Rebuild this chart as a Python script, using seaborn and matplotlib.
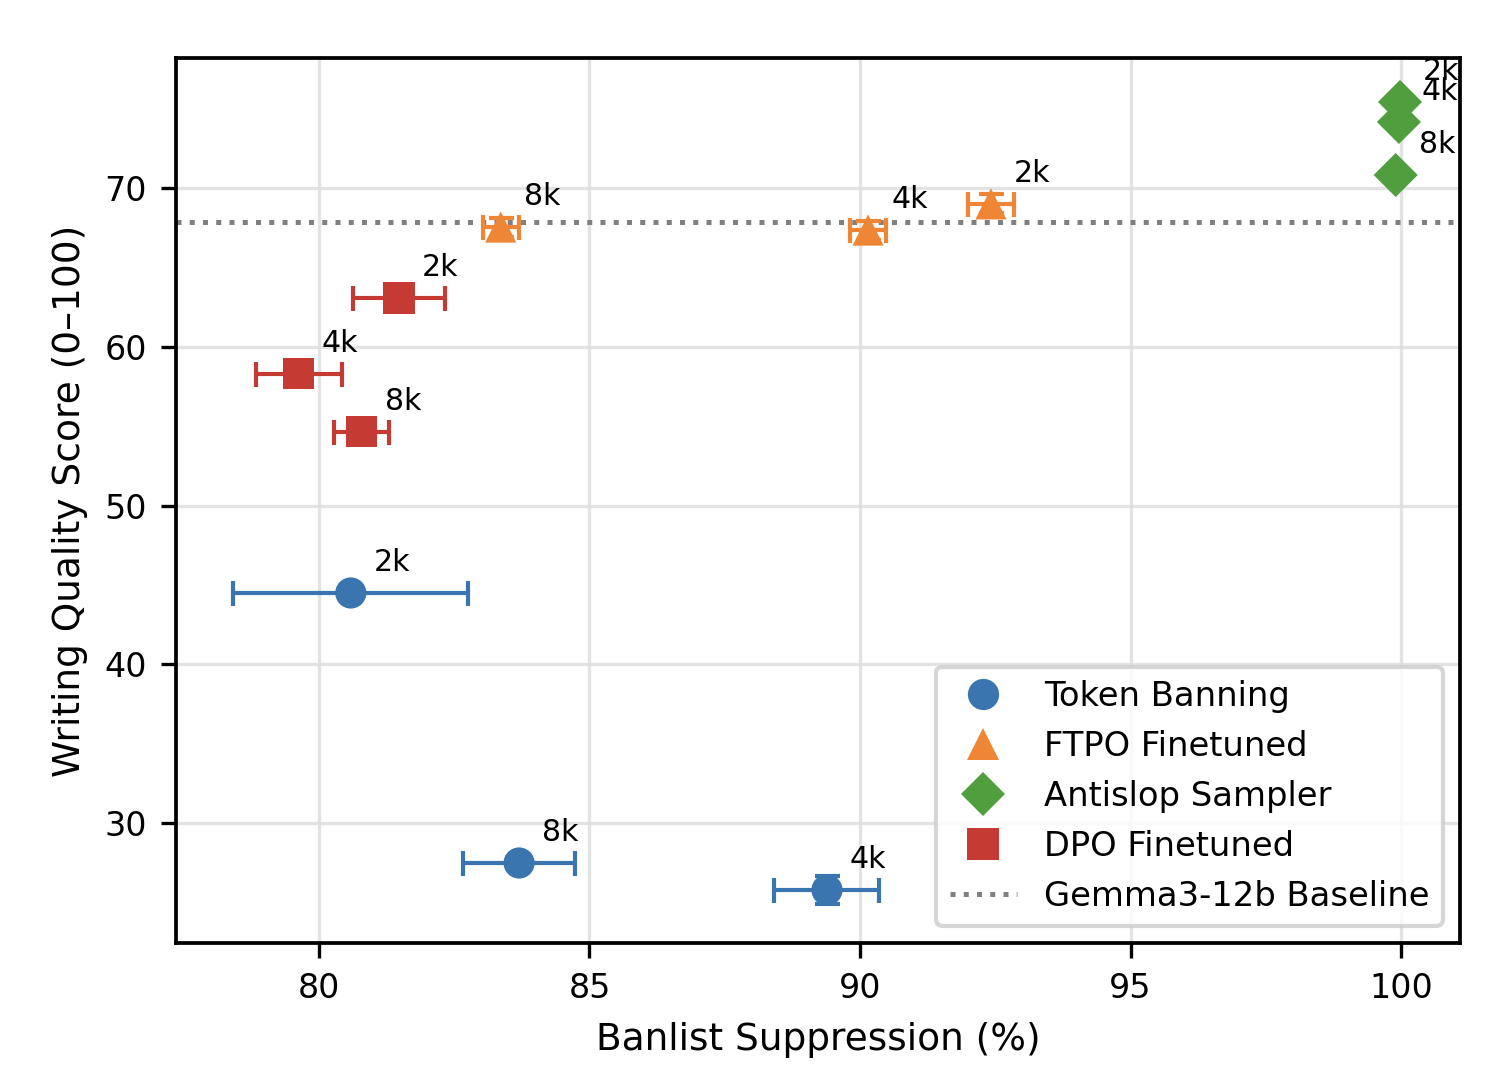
import numpy as np
import pandas as pd
import matplotlib
matplotlib.use('Agg')
import matplotlib.pyplot as plt
import seaborn as sns
from matplotlib.lines import Line2D

sns.set_style('ticks')
plt.rcParams['font.family'] = ['DejaVu Sans']
plt.rcParams['text.color'] = 'black'
plt.rcParams['axes.labelcolor'] = 'black'
plt.rcParams['xtick.color'] = 'black'
plt.rcParams['ytick.color'] = 'black'

# данные
methods = ['Token Banning', 'FTPO Finetuned', 'Antislop Sampler', 'DPO Finetuned']
colors = ['#3b75af', '#ef8636', '#519e3e', '#c53a32']
markers = ['o', '^', 'D', 's']

method_col = ['Token Banning'] * 3 + ['FTPO Finetuned'] * 3 + ['Antislop Sampler'] * 3 + ['DPO Finetuned'] * 3
size_col = ['2k', '4k', '8k'] * 4
suppression = [80.59, 89.39, 83.70,
               92.42, 90.15, 83.36,
               99.98, 99.96, 99.90,
               81.48, 79.63, 80.79]
quality = [44.49, 25.78, 27.48,
           69.00, 67.35, 67.54,
           75.42, 74.16, 70.82,
           63.07, 58.30, 54.65]
supp_err = [2.17, 0.97, 1.03,
            0.43, 0.33, 0.33,
            0.0, 0.0, 0.0,
            0.85, 0.80, 0.51]
qual_err = [0.0, 0.9, 0.0,
            0.6, 0.6, 0.6,
            0.0, 0.0, 0.0,
            0.0, 0.0, 0.0]
baseline = 67.86

df = pd.DataFrame({'method': method_col, 'size': size_col, 'x': suppression,
                   'y': quality, 'xerr': supp_err, 'yerr': qual_err})

fig, ax = plt.subplots(figsize=(1511 / 300, 1076 / 300), dpi=300)
fig.subplots_adjust(left=0.1165, right=0.9663, top=0.9461, bottom=0.1236)

# усы погрешностей
for m, c in zip(methods, colors):
    d = df[df['method'] == m]
    if (d['xerr'] > 0).any() or (d['yerr'] > 0).any():
        ax.errorbar(d['x'], d['y'], xerr=d['xerr'], yerr=d['yerr'], fmt='none',
                    ecolor=c, elinewidth=1.0, capsize=3, capthick=1.0, zorder=2)

sns.scatterplot(data=df, x='x', y='y', hue='method', style='method',
                hue_order=methods, style_order=methods,
                palette=dict(zip(methods, colors)), markers=dict(zip(methods, markers)),
                s=56, linewidth=0, zorder=3, ax=ax, legend=False)

ax.axhline(baseline, color='gray', ls=':', lw=1.2, zorder=1)

for _, r in df.iterrows():
    ax.annotate(r['size'], (r['x'], r['y']), xytext=(5.5, 3.8), textcoords='offset points',
                ha='left', va='bottom', fontsize=7.2)

ax.set_xlim(77.36, 101.09)
ax.set_ylim(22.44, 78.19)
ax.set_xticks([80, 85, 90, 95, 100])
ax.set_yticks([30, 40, 50, 60, 70])
ax.tick_params(labelsize=8, width=0.8, length=3.5)
ax.grid(True, color='#dddddd', lw=0.8, alpha=0.8)
ax.set_axisbelow(True)
for sp in ax.spines.values():
    sp.set_linewidth(0.9)
    sp.set_color('black')

ax.set_xlabel('Banlist Suppression (%)', fontsize=9)
ax.set_ylabel('Writing Quality Score (0–100)', fontsize=9)

handles = [Line2D([], [], ls='none', marker=mk, color=c, markersize=7.5, markeredgewidth=0)
           for mk, c in zip(markers, colors)]
handles.append(Line2D([], [], ls=':', color='gray', lw=1.2))
ax.legend(handles, methods + ['Gemma3-12b Baseline'], loc='lower right', fontsize=8.1)

plt.savefig('out.png', dpi=300)
plt.close()
